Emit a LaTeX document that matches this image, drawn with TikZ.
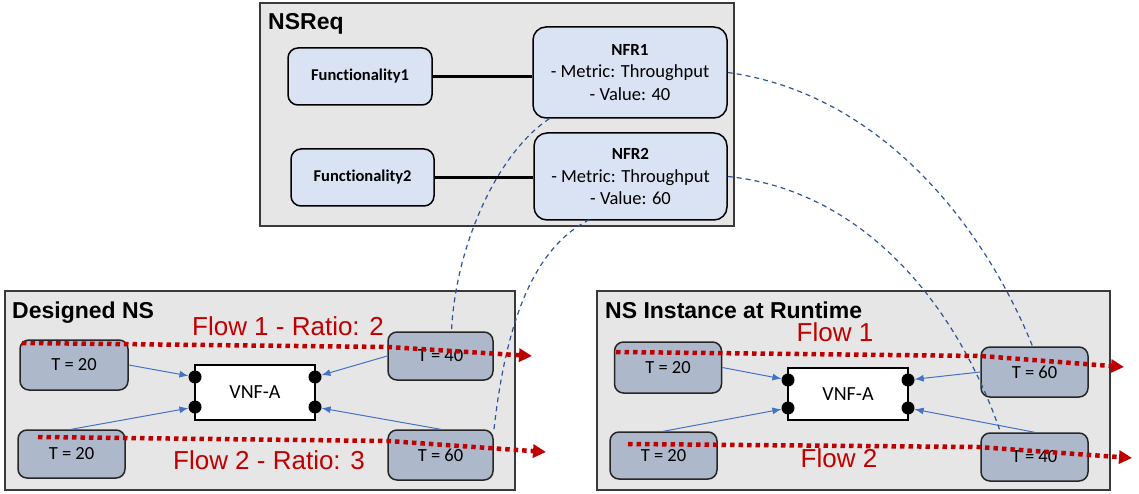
\documentclass[tikz,border=0pt]{standalone}
\usepackage{fontspec}
\setmainfont{Carlito}[Ligatures=NoCommon, RawFeature={-calt;-clig}]
\newfontfamily\arialfont{Liberation Sans}
\usetikzlibrary{arrows.meta}
\definecolor{panelfill}{HTML}{E7E6E6}
\definecolor{panelline}{HTML}{3A3A3A}
\definecolor{reqfill}{HTML}{DAE3F3}
\definecolor{tfill}{HTML}{ADB9CA}
\definecolor{linkblue}{HTML}{4472C4}
\definecolor{traceblue}{HTML}{2F5597}
\definecolor{flowred}{HTML}{C00000}
\tikzset{
  panel/.style={draw=panelline, line width=1.2pt, fill=panelfill, inner sep=0pt},
  title/.style={anchor=base west, inner sep=0pt, font=\arialfont\bfseries\fontsize{23}{27}\selectfont},
  funcbox/.style={draw=black, line width=1.5pt, fill=reqfill, rounded corners=10pt, inner sep=0pt,
    font=\bfseries\fontsize{16.5}{20}\selectfont},
  nfrbox/.style={draw=black, line width=1.5pt, fill=reqfill, rounded corners=13pt, inner sep=0pt,
    align=center, font=\fontsize{18.5}{22.5}\selectfont},
  tbox/.style={draw=black!85, line width=1.5pt, fill=tfill, rounded corners=9pt, inner sep=0pt,
    font=\fontsize{18.5}{22}\selectfont},
  vnf/.style={draw=black, line width=1.3pt, fill=white, inner sep=0pt, font=\fontsize{20}{24}\selectfont},
  port/.style={circle, fill=black, minimum size=13pt, inner sep=0pt},
  assoc/.style={draw=black, line width=2.5pt},
  link/.style={draw=linkblue, line width=1pt, -{Latex[length=9pt,width=7pt]}},
  trace/.style={draw=traceblue, line width=1.2pt, dash pattern=on 5pt off 4pt},
  flow/.style={draw=flowred, line width=4.5pt, dash pattern=on 4.5pt off 4pt,
    -{Triangle[length=13pt,width=13pt]}},
  flowlabel/.style={text=flowred, inner sep=0pt, font=\arialfont\fontsize{26}{30}\selectfont}
}
\begin{document}
\begin{tikzpicture}[x=1pt,y=-1pt]
\useasboundingbox (0,0) rectangle (1139,494);

% ---------- requirements panel ----------
\node[panel, minimum width=474pt, minimum height=223pt] (req) at (497,114.5) {};
\node[title] (reqt) at (268,30) {NSReq};
\node[funcbox, minimum width=144pt, minimum height=57pt] (f1) at (360,76.5) {Functionality1};
\node[funcbox, minimum width=143pt, minimum height=57pt] (f2) at (362.5,177.5) {Functionality2};
\node[nfrbox, minimum width=194pt, minimum height=91pt] (nfr1) at (630,72.5)
  {{\bfseries\fontsize{17}{21}\selectfont NFR1}\\- Metric: Throughput\\- Value: 40};
\node[nfrbox, minimum width=193pt, minimum height=87pt] (nfr2) at (630.5,176.5)
  {{\bfseries\fontsize{17}{21}\selectfont NFR2}\\- Metric: Throughput\\- Value: 60};
\draw[assoc] (f1.east) -- (nfr1.west |- f1.east);
\draw[assoc] (f2.east) -- (nfr2.west |- f2.east);

% ---------- designed service ----------
\node[panel, minimum width=510pt, minimum height=199pt] (dns) at (260,390.5) {};
\node[title] (dnst) at (12,318) {Designed NS};
\node[tbox, minimum width=108pt, minimum height=50pt] (d20a) at (74,365) {T = 20};
\node[tbox, minimum width=107pt, minimum height=48pt] (d20b) at (71.5,454) {T = 20};
\node[tbox, minimum width=105pt, minimum height=48pt] (d40) at (440.5,356) {T = 40};
\node[tbox, minimum width=105pt, minimum height=50pt] (d60) at (440.5,455) {T = 60};
\node[vnf, minimum width=120pt, minimum height=55pt] (dvnf) at (255,392.5) {VNF-A};
\node[port] (dp1) at (195,377) {};
\node[port] (dp2) at (195,407) {};
\node[port] (dp3) at (315,377) {};
\node[port] (dp4) at (315,407) {};
\draw[link] (d20a.east) -- (dp1);
\draw[link] (d20b.north) -- (dp2);
\draw[link] (d40.west) -- (dp3);
\draw[link] (d60.north) -- (dp4);

% ---------- runtime instance ----------
\node[panel, minimum width=513pt, minimum height=199pt] (rns) at (853.5,390.5) {};
\node[title] (rnst) at (605,318) {NS Instance at Runtime};
\node[tbox, minimum width=107pt, minimum height=51pt] (r20a) at (668,367.5) {T = 20};
\node[tbox, minimum width=107pt, minimum height=47pt] (r20b) at (663.5,455.5) {T = 20};
\node[tbox, minimum width=107pt, minimum height=50pt] (r60) at (1034.5,372) {T = 60};
\node[tbox, minimum width=107pt, minimum height=48pt] (r40) at (1034.5,457) {T = 40};
\node[vnf, minimum width=120pt, minimum height=52pt] (rvnf) at (848,394) {VNF-A};
\node[port] (rp1) at (788,380) {};
\node[port] (rp2) at (788,408) {};
\node[port] (rp3) at (908,380) {};
\node[port] (rp4) at (908,408) {};
\draw[link] (r20a.east) -- (rp1);
\draw[link] (r20b.north) -- (rp2);
\draw[link] (r60.west) -- (rp3);
\draw[link] (r40.north) -- (rp4);

% ---------- traces from requirements to terminals ----------
\draw[trace] (nfr1.east) .. controls (890,95) and (990,240) .. ([xshift=-2pt]r60.north);
\draw[trace] (nfr2.east) .. controls (860,190) and (955,300) .. ([xshift=-34pt]r40.north);
\draw[trace] ([xshift=17pt]nfr1.south west) .. controls (495,155) and (455,250) .. ([xshift=11pt]d40.north);
\draw[trace] ([xshift=56pt,yshift=1pt]nfr2.south west) .. controls (530,250) and (505,330) .. ([yshift=-2pt]d60.north east);

% ---------- flows ----------
\coordinate (df1s) at (22,343);
\coordinate (df1m) at (388,347);
\coordinate (df1e) at (532,356);
\coordinate (df2s) at (38,437);
\coordinate (df2m) at (388,441);
\coordinate (df2e) at (546,452);
\draw[flow] (df1s) -- (df1m) -- (df1e);
\draw[flow] (df2s) -- (df2m) -- (df2e);
\node[flowlabel] (dl1) at (288,326) {Flow 1 - Ratio: 2};
\node[flowlabel] (dl2) at (269,460) {Flow 2 - Ratio: 3};

\coordinate (rf1s) at (616,352);
\coordinate (rf1m) at (981,356);
\coordinate (rf1e) at (1124,367);
\coordinate (rf2s) at (628,444);
\coordinate (rf2m) at (978,447);
\coordinate (rf2e) at (1132,458);
\draw[flow] (rf1s) -- (rf1m) -- (rf1e);
\draw[flow] (rf2s) -- (rf2m) -- (rf2e);
\node[flowlabel] (rl1) at (835,332) {Flow 1};
\node[flowlabel] (rl2) at (839,458) {Flow 2};
\end{tikzpicture}
\end{document}
